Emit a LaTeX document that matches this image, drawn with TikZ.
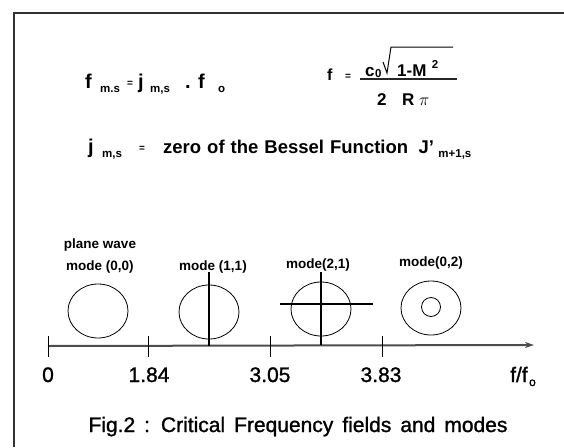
\documentclass[tikz,border=0pt]{standalone}
\usepackage{fontspec}
\setmainfont{Liberation Sans}
\newfontfamily\medfont[FakeBold=1.2]{Liberation Sans}
\usetikzlibrary{shapes.geometric,arrows.meta}
\begin{document}
\begin{tikzpicture}[x=1pt,y=-1pt,
  txt/.style={inner sep=0pt, anchor=base west, font=\fontsize{20}{20}\selectfont\bfseries},
  txm/.style={inner sep=0pt, anchor=base west, font=\fontsize{18.5}{19}\selectfont\bfseries},
  txs/.style={inner sep=0pt, anchor=base west, font=\fontsize{17}{17}\selectfont\bfseries},
  sub/.style={inner sep=0pt, anchor=base west, font=\fontsize{11.5}{12}\selectfont\bfseries},
  eqs/.style={inner sep=0pt, anchor=base west, font=\fontsize{10}{10}\selectfont\bfseries},
  mlab/.style={inner sep=0pt, anchor=center, font=\fontsize{13.5}{14}\selectfont\bfseries},
  alab/.style={inner sep=0pt, anchor=base, font=\fontsize{21}{21}\medfont},
  ring/.style={draw, ellipse, minimum width=60pt, minimum height=54pt, inner sep=0pt, line width=0.8pt},
  frameline/.style={draw=black!80, line width=1.8pt},
  axisline/.style={draw=black!70, line width=2pt},
  tickline/.style={draw, line width=1pt},
  modeline/.style={draw, line width=1.1pt}]
\useasboundingbox (0,0) rectangle (564,447);
% frame
\coordinate (fb) at (14,447);
\coordinate (fc) at (14,13);
\coordinate (fr) at (564,13);
\draw[frameline] (fb) -- (fc) -- (fr);
% formula 1
\node[txt] (f1) at (85,88) {f};
\node[sub] (f1s) at (100,92) {m.s};
\node[eqs] (f1e) at (127,86) {=};
\node[txt] (j1) at (138,88) {j};
\node[sub] (j1s) at (150,92) {m,s};
\node[txt] (dot1) at (185,88) {.};
\node[txt] (f0) at (198,88) {f};
\node[sub] (f0s) at (218,92) {o};
% formula 2
\node[inner sep=0pt, anchor=base west, font=\fontsize{16}{16}\selectfont\bfseries] (f2) at (327,80) {f};
\node[eqs] (f2e) at (345,79) {=};
\node[txs] (c0) at (365,76) {c};
\node[sub] (c0s) at (375,77) {0};
\coordinate (r1) at (383,62);
\coordinate (r2) at (387,73);
\coordinate (r3) at (391,47);
\coordinate (r4) at (453,47);
\draw[line width=1pt] (r1) -- (r2) -- (r3) -- (r4);
\node[txs] (num) at (397,76) {1-M};
\node[sub, anchor=base west] (sq) at ([xshift=5pt,yshift=8pt]num.base east) {2};
\coordinate (b1) at (360,79);
\coordinate (b2) at (457,79);
\draw[line width=1.1pt, black!85] (b1) -- (b2);
\node[txs] (den2) at (377,105) {2};
\node[txs] (denR) at (402,105) {R};
\node[inner sep=0pt, anchor=base west, font=\fontsize{19}{19}\selectfont] (denpi) at (419,105) {$\pi$};
% line 3
\node[txt] (j3) at (88,153) {j};
\node[sub] (j3s) at (102,157) {m,s};
\node[eqs] (j3e) at (139,151) {=};
\node[txm] (bes) at (163,153) {\spaceskip=6pt zero of the Bessel Function};
\node[txm, anchor=base west] (J) at ([xshift=10pt]bes.base east) {J'};
\node[sub, anchor=base west] (Js) at ([xshift=4pt,yshift=-4pt]J.base east) {m+1,s};
% mode labels
\node[mlab] (pw) at (100,245) {plane wave};
\node[mlab] (m00) at (100,267) {mode (0,0)};
\node[mlab] (m11) at (213,267) {mode (1,1)};
\node[mlab] (m21) at (318,265) {mode(2,1)};
\node[mlab] (m02) at (431,263) {mode(0,2)};
% circles
\node[ring] (c1) at (98,311) {};
\node[ring] (c2) at (209,312) {};
\node[ring] (c3) at (321,309) {};
\node[ring] (c4) at (431,308) {};
\node[draw, circle, minimum size=19pt, inner sep=0pt, line width=0.8pt] (c4i) at (431,307) {};
% axis
\coordinate (a0) at (48,346);
\coordinate (aend) at (534,345);
\draw[axisline, -{Stealth[length=9pt,width=6pt]}] (a0) -- (aend);
% mode lines
\coordinate (v2t) at (209,272);
\coordinate (v2b) at (209,346);
\draw[modeline] (v2t) -- (v2b);
\coordinate (v3t) at (321,272);
\coordinate (v3b) at (321,345);
\draw[modeline] (v3t) -- (v3b);
\coordinate (h3l) at (280,304);
\coordinate (h3r) at (373,304);
\draw[modeline] (h3l) -- (h3r);
% ticks
\foreach \x/\n in {48/t0,148/t1,270/t2,382/t3}{
  \coordinate (\n a) at (\x,336);
  \coordinate (\n b) at (\x,357);
  \draw[tickline] (\n a) -- (\n b);
}
% axis labels
\node[alab] (l0) at (48,382) {0};
\node[alab] (l1) at (149,382) {1.84};
\node[alab] (l2) at (270,382) {3.05};
\node[alab] (l3) at (381,382) {3.83};
\node[inner sep=0pt, anchor=base west, font=\fontsize{21}{21}\medfont] (ff) at (510,382) {f/f};
\node[inner sep=0pt, anchor=base west, font=\fontsize{12}{12}\medfont] (ffs) at ([xshift=1pt,yshift=-4pt]ff.base east) {o};
% caption
\node[inner sep=0pt, anchor=base, font=\fontsize{21}{21}\medfont] (cap) at (298,432) {\spaceskip=9pt Fig.2 : Critical Frequency fields and modes};
\end{tikzpicture}
\end{document}
